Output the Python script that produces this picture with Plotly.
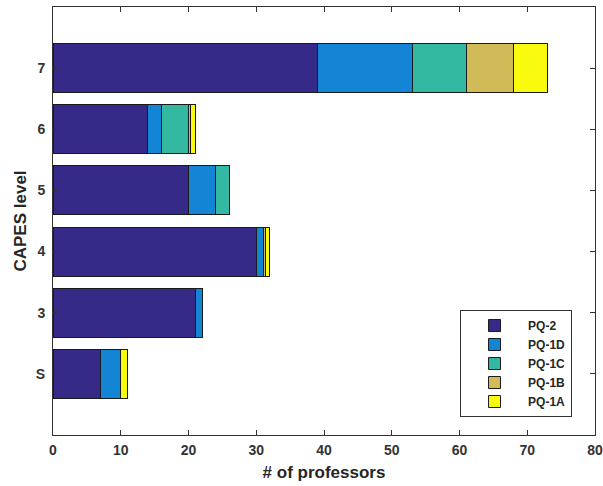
import plotly.graph_objects as go

levels = ["S", "3", "4", "5", "6", "7"]
level_pos = [1, 2, 3, 4, 5, 6]
series_names = ["PQ-2", "PQ-1D", "PQ-1C", "PQ-1B", "PQ-1A"]
pq2 = [7, 21, 30, 20, 14, 39]
pq1d = [3, 1, 1, 4, 2, 14]
pq1c = [0, 0, 0, 2, 4, 8]
pq1b = [0, 0, 0.4, 0, 0.3, 7]
pq1a = [1, 0, 0.6, 0, 0.7, 5]
x_ticks = [0, 10, 20, 30, 40, 50, 60, 70, 80]

colors = ["#352a87", "#1484d4", "#33b8a1", "#d1bb59", "#f9fb0e"]
series = [pq2, pq1d, pq1c, pq1b, pq1a]

fig = go.Figure()
for name, vals, col in zip(series_names, series, colors):
    fig.add_trace(go.Bar(
        x=vals, y=level_pos, name=name, orientation="h",
        marker=dict(color=col, line=dict(color="#1a1a1a", width=1)),
        width=0.8,
    ))

font_family = "Liberation Sans, Arial, sans-serif"
fig.update_layout(
    barmode="stack",
    width=603, height=486,
    margin=dict(l=53, r=8, t=7, b=51, autoexpand=False),
    plot_bgcolor="white", paper_bgcolor="white",
    font=dict(family=font_family, size=13, color="#333333"),
    showlegend=True,
    legend=dict(
        x=0.751, y=0.042, xanchor="left", yanchor="bottom",
        traceorder="normal",
        bordercolor="#333333", borderwidth=1, bgcolor="white",
        font=dict(family=font_family, size=12, color="#262626", weight="bold"),
        itemwidth=57,
        tracegroupgap=0,
    ),
    xaxis=dict(
        range=[0, 80], tickvals=x_ticks, ticktext=[str(v) for v in x_ticks],
        showgrid=False, zeroline=False, automargin=False,
        showline=True, linecolor="#333333", linewidth=1, mirror="ticks",
        ticks="inside", ticklen=5, tickcolor="#333333",
        ticklabelstandoff=2,
        tickfont=dict(family=font_family, size=14, color="#333333", weight="bold"),
        title=dict(text="# of professors", standoff=9,
                   font=dict(family=font_family, size=17, color="#262626", weight="bold")),
    ),
    yaxis=dict(
        range=[0, 7], tickvals=level_pos, ticktext=levels,
        showgrid=False, zeroline=False, automargin=False,
        showline=True, linecolor="#333333", linewidth=1, mirror="ticks",
        ticks="inside", ticklen=5, tickcolor="#333333",
        ticklabelstandoff=4,
        tickfont=dict(family=font_family, size=14, color="#333333", weight="bold"),
        title=dict(text="CAPES level", standoff=4,
                   font=dict(family=font_family, size=17, color="#262626", weight="bold")),
    ),
)

fig.write_html("out.html", config={"displayModeBar": False},
               post_script="document.body.style.margin='0';")
